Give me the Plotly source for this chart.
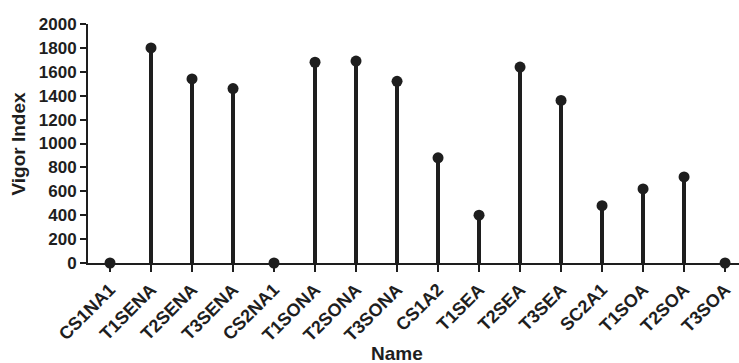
import plotly.graph_objects as go

names = ["CS1NA1", "T1SENA", "T2SENA", "T3SENA", "CS2NA1", "T1SONA", "T2SONA",
         "T3SONA", "CS1A2", "T1SEA", "T2SEA", "T3SEA", "SC2A1", "T1SOA", "T2SOA", "T3SOA"]
vigor_index = [0, 1800, 1540, 1460, 0, 1680, 1690, 1520, 880, 400, 1640, 1360, 480, 620, 720, 0]
y_ticks = [0, 200, 400, 600, 800, 1000, 1200, 1400, 1600, 1800, 2000]

ink = "#1e1e1e"
font = dict(family="Liberation Sans, Arial, sans-serif", color=ink, weight="bold")

fig = go.Figure()
fig.add_trace(go.Bar(x=names, y=vigor_index, width=0.1, marker=dict(color=ink, line=dict(width=0)),
                     showlegend=False))
fig.add_trace(go.Scatter(x=names, y=vigor_index, mode="markers",
                         marker=dict(color=ink, size=11), showlegend=False, cliponaxis=False))

fig.update_layout(
    width=739, height=363,
    margin=dict(l=88, r=0, t=24, b=100),
    paper_bgcolor="white", plot_bgcolor="white",
    bargap=0,
    xaxis=dict(
        type="category", range=[-0.537, 15.34], automargin=False,
        showline=True, linecolor=ink, linewidth=2,
        ticks="outside", ticklen=7, tickwidth=2, tickcolor=ink,
        tickangle=-45, tickfont=dict(size=18, **font),
        showgrid=False, zeroline=False,
    ),
    yaxis=dict(
        range=[0, 2000], tickvals=y_ticks, automargin=False,
        showline=True, linecolor=ink, linewidth=2,
        ticks="outside", ticklen=6, tickwidth=2, tickcolor=ink,
        tickfont=dict(size=17, **font),
        showgrid=False, zeroline=False,
    ),
    annotations=[
        dict(text="Name", xref="paper", yref="paper", x=0.4747, y=-0.3766,
             xanchor="center", yanchor="middle", showarrow=False,
             font=dict(size=19, **font)),
        dict(text="Vigor Index", xref="paper", yref="paper", x=-0.1075, y=0.5,
             xanchor="center", yanchor="middle", textangle=-90, showarrow=False,
             font=dict(size=19, **font)),
    ],
)

fig.write_html("out.html", config={"displayModeBar": False},
               post_script="document.body.style.margin='0';")
